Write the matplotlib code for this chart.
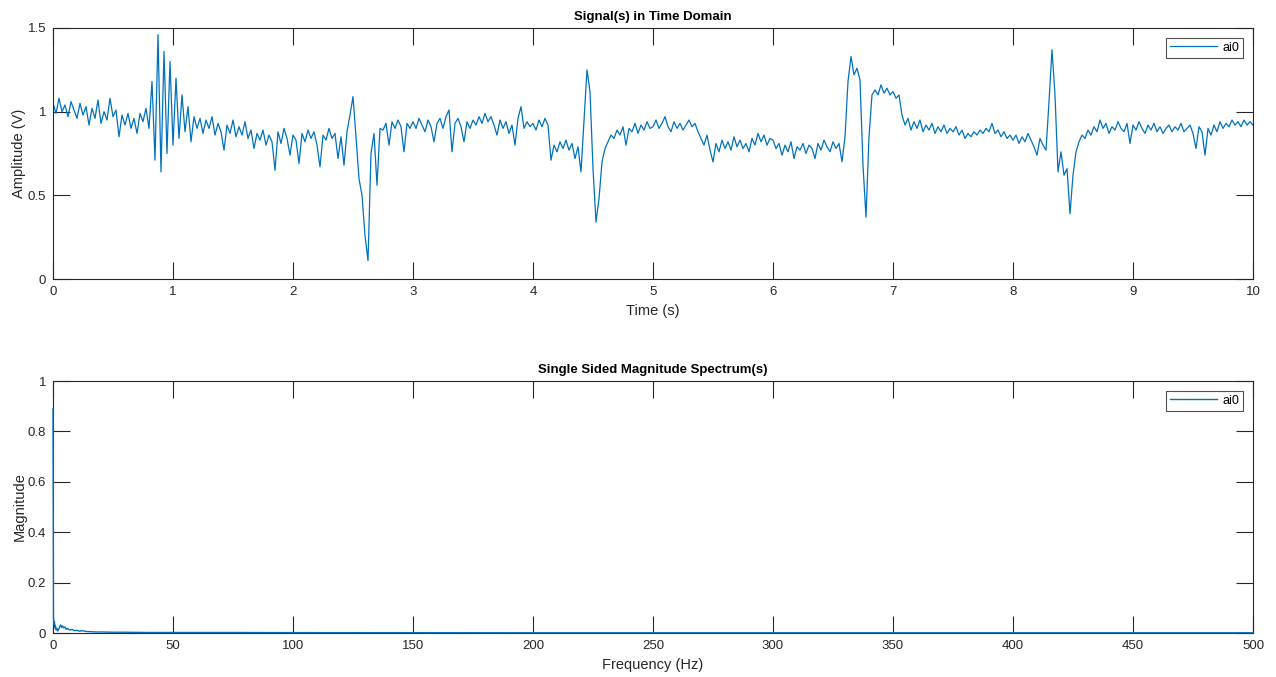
import numpy as np
import matplotlib
matplotlib.use('Agg')
import matplotlib.pyplot as plt
from matplotlib.ticker import FuncFormatter

# Time-domain samples, one row per second (0.025 s step)
sig_0 = [1.05, 0.99, 1.08, 1.00, 1.04, 0.97, 1.06, 1.01, 0.96, 1.05,
         0.98, 1.03, 0.92, 1.02, 0.96, 1.07, 0.93, 1.00, 0.95, 1.08,
         0.97, 1.01, 0.85, 0.98, 0.92, 0.99, 0.90, 0.96, 0.87, 0.99,
         0.94, 1.02, 0.90, 1.18, 0.71, 1.46, 0.64, 1.36, 0.75, 1.30]
sig_1 = [0.80, 1.20, 0.84, 1.10, 0.88, 1.03, 0.82, 0.97, 0.90, 0.96,
         0.87, 0.95, 0.90, 0.97, 0.86, 0.93, 0.88, 0.77, 0.92, 0.87,
         0.95, 0.85, 0.91, 0.86, 0.94, 0.84, 0.89, 0.78, 0.87, 0.83,
         0.89, 0.80, 0.86, 0.82, 0.65, 0.88, 0.81, 0.90, 0.84, 0.74]
sig_2 = [0.86, 0.83, 0.69, 0.87, 0.82, 0.89, 0.84, 0.88, 0.80, 0.67,
         0.86, 0.83, 0.90, 0.84, 0.87, 0.72, 0.85, 0.68, 0.88, 0.98,
         1.09, 0.85, 0.60, 0.50, 0.26, 0.11, 0.75, 0.87, 0.56, 0.90,
         0.89, 0.93, 0.80, 0.94, 0.90, 0.95, 0.91, 0.76, 0.93, 0.90]
sig_3 = [0.94, 0.90, 0.96, 0.92, 0.88, 0.95, 0.91, 0.82, 0.93, 0.96,
         0.90, 0.97, 1.01, 0.76, 0.93, 0.96, 0.91, 0.82, 0.94, 0.90,
         0.95, 0.92, 0.97, 0.93, 0.99, 0.94, 0.97, 0.92, 0.86, 0.95,
         0.90, 0.94, 0.87, 0.92, 0.80, 0.96, 1.03, 0.90, 0.94, 0.91]
sig_4 = [0.93, 0.89, 0.95, 0.91, 0.96, 0.92, 0.71, 0.80, 0.76, 0.82,
         0.78, 0.83, 0.77, 0.81, 0.72, 0.79, 0.64, 0.95, 1.25, 1.12,
         0.66, 0.34, 0.48, 0.70, 0.78, 0.82, 0.86, 0.84, 0.89, 0.86,
         0.91, 0.80, 0.90, 0.88, 0.93, 0.87, 0.92, 0.89, 0.94, 0.90]
sig_5 = [0.91, 0.95, 0.90, 0.93, 0.97, 0.91, 0.88, 0.94, 0.90, 0.93,
         0.89, 0.92, 0.95, 0.91, 0.93, 0.88, 0.84, 0.80, 0.86, 0.77,
         0.70, 0.81, 0.76, 0.83, 0.78, 0.82, 0.77, 0.85, 0.79, 0.83,
         0.78, 0.81, 0.76, 0.84, 0.80, 0.87, 0.82, 0.86, 0.80, 0.84]
sig_6 = [0.83, 0.78, 0.81, 0.74, 0.80, 0.76, 0.82, 0.72, 0.79, 0.77,
         0.81, 0.75, 0.80, 0.78, 0.72, 0.81, 0.77, 0.83, 0.79, 0.76,
         0.82, 0.78, 0.81, 0.70, 0.85, 1.18, 1.33, 1.22, 1.26, 1.19,
         0.68, 0.37, 0.85, 1.10, 1.13, 1.10, 1.16, 1.11, 1.14, 1.10]
sig_7 = [1.12, 1.08, 1.10, 0.98, 0.92, 0.96, 0.89, 0.94, 0.90, 0.95,
         0.88, 0.92, 0.89, 0.93, 0.87, 0.91, 0.88, 0.92, 0.87, 0.90,
         0.88, 0.91, 0.86, 0.89, 0.84, 0.87, 0.85, 0.88, 0.86, 0.89,
         0.87, 0.90, 0.88, 0.93, 0.87, 0.89, 0.85, 0.88, 0.84, 0.86]
sig_8 = [0.83, 0.86, 0.81, 0.85, 0.82, 0.87, 0.83, 0.79, 0.74, 0.84,
         0.80, 0.77, 1.06, 1.37, 1.10, 0.64, 0.76, 0.62, 0.66, 0.39,
         0.62, 0.76, 0.82, 0.86, 0.84, 0.89, 0.86, 0.91, 0.88, 0.95,
         0.90, 0.93, 0.87, 0.91, 0.89, 0.94, 0.90, 0.88, 0.93, 0.81]
sig_9 = [0.92, 0.89, 0.94, 0.90, 0.87, 0.92, 0.89, 0.93, 0.88, 0.91,
         0.87, 0.90, 0.92, 0.88, 0.91, 0.89, 0.93, 0.88, 0.90, 0.92,
         0.87, 0.78, 0.91, 0.88, 0.74, 0.90, 0.86, 0.92, 0.88, 0.94,
         0.90, 0.93, 0.91, 0.95, 0.92, 0.94, 0.91, 0.95, 0.92, 0.94,
         0.92]

# Single sided spectrum
spec_freq = [0, 0.2, 0.4, 0.6, 0.8, 1.0, 1.3, 1.6, 2.0, 2.4, 2.8, 3.2, 3.6, 4.0,
             4.5, 5.0, 5.5, 6.0, 7.0, 8.0, 9.0, 10, 11, 12, 14, 16, 18, 20, 25,
             30, 40, 50, 75, 100, 150, 200, 250, 300, 350, 400, 450, 500]
spec_mag = [0.89, 0.06, 0.035, 0.045, 0.02, 0.03, 0.012, 0.018, 0.008, 0.015,
            0.025, 0.032, 0.022, 0.028, 0.02, 0.024, 0.015, 0.018, 0.012, 0.014,
            0.009, 0.011, 0.007, 0.009, 0.006, 0.005, 0.004, 0.004, 0.003, 0.003,
            0.002, 0.002, 0.002, 0.0015, 0.0012, 0.001, 0.001, 0.001, 0.001,
            0.001, 0.001, 0.001]

signal = np.array(sig_0 + sig_1 + sig_2 + sig_3 + sig_4 + sig_5 + sig_6 + sig_7 + sig_8 + sig_9)
t = np.linspace(0, 10, len(signal))

blue = '#0072BD'
dark = '#262626'
plt.rcParams['font.family'] = ['Liberation Sans', 'DejaVu Sans']

fig = plt.figure(figsize=(12.76, 6.77), dpi=100)
ax1 = fig.add_axes([53 / 1276, 1 - 279 / 677, 1200 / 1276, 251 / 677])
ax2 = fig.add_axes([53 / 1276, 1 - 633 / 677, 1200 / 1276, 252 / 677])


def g_fmt(v, pos):
    return '%g' % round(v, 3)


def style(ax):
    for s in ax.spines.values():
        s.set_color(dark)
        s.set_linewidth(0.8)
    ax.tick_params(direction='in', length=12, width=0.8, colors=dark,
                   labelsize=9.5, top=True, right=True, pad=5)
    ax.yaxis.set_major_formatter(FuncFormatter(g_fmt))
    ax.yaxis.labelpad = 1
    leg = ax.legend(loc='upper right', fontsize=9, frameon=True, fancybox=False,
                    edgecolor=dark, handlelength=3.8, borderaxespad=0.8,
                    borderpad=0.3, handletextpad=0.4)
    leg.get_frame().set_linewidth(0.8)


ax1.plot(t, signal, color=blue, linewidth=0.9, label='ai0')
ax1.set_xlim(0, 10)
ax1.set_ylim(0, 1.5)
ax1.set_xticks(range(0, 11))
ax1.set_yticks([0, 0.5, 1, 1.5])
ax1.set_title('Signal(s) in Time Domain', fontsize=9.5, fontweight='bold', pad=6)
ax1.set_xlabel('Time (s)', fontsize=10.5, color=dark)
ax1.set_ylabel('Amplitude (V)', fontsize=10.5, color=dark)
style(ax1)

# the DC spike sits on the left spine, so draw above it
ax2.plot(spec_freq, spec_mag, color=blue, linewidth=1.0, label='ai0',
         clip_on=False, zorder=5)
ax2.set_xlim(0, 500)
ax2.set_ylim(0, 1)
ax2.set_xticks(range(0, 501, 50))
ax2.set_yticks([0, 0.2, 0.4, 0.6, 0.8, 1])
ax2.set_title('Single Sided Magnitude Spectrum(s)', fontsize=9.5, fontweight='bold', pad=6)
ax2.set_xlabel('Frequency (Hz)', fontsize=10.5, color=dark)
ax2.set_ylabel('Magnitude', fontsize=10.5, color=dark)
style(ax2)

fig.savefig('out.png', dpi=100)
